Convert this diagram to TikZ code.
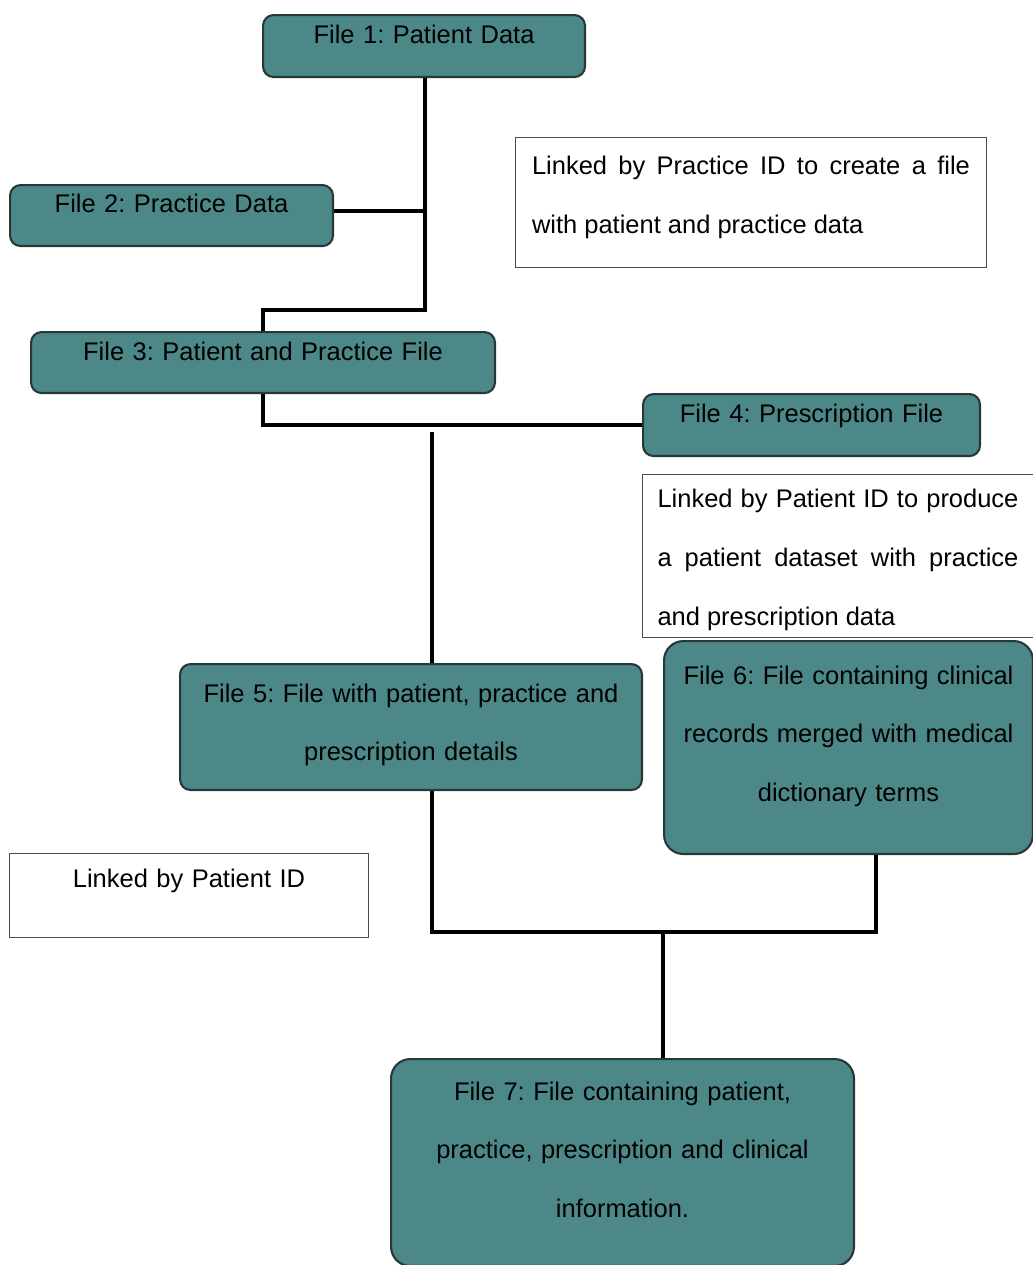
\documentclass[tikz,border=0pt]{standalone}
\usepackage{fontspec}
\setmainfont{Liberation Sans}
\frenchspacing
\definecolor{filefill}{RGB}{76,136,136}
\definecolor{fileedge}{RGB}{40,55,55}

\begin{document}
\begin{tikzpicture}[x=0.02cm, y=-0.02cm,
  filebox/.style={draw=fileedge, line width=1.2pt, fill=filefill, rounded corners=6pt,
    inner sep=0pt, anchor=north west, align=center,
    font=\fontsize{14.5}{33.5}\selectfont},
  bigbox/.style={filebox, rounded corners=11pt},
  notebox/.style={draw=black!70, line width=0.6pt, fill=white, inner ysep=0pt,
    inner xsep=0.33cm, anchor=north west, align=justify,
    font=\fontsize{14.5}{33.5}\selectfont},
  link/.style={line width=2.3pt, black}]
  % Page
  \useasboundingbox (0,0) rectangle (1032,1265);

  % Files
  \node[filebox, text width=6.44cm, text height=0.56cm, text depth=0.68cm] (f1) at (262,14) {File 1: Patient Data};
  \node[filebox, text width=6.46cm, text height=0.54cm, text depth=0.68cm] (f2) at (9,184) {File 2: Practice Data};
  \node[filebox, text width=9.28cm, text height=0.56cm, text depth=0.66cm] (f3) at (30,331) {File 3: Patient and Practice File};
  \node[filebox, text width=6.74cm, text height=0.56cm, text depth=0.68cm] (f4) at (642,393) {File 4: Prescription File};
  \node[filebox, text width=9.24cm, text height=0.76cm, text depth=1.76cm] (f5) at (179,663) {File 5: File with patient, practice and\\prescription details};
  \node[bigbox, text width=7.38cm, text height=0.86cm, text depth=3.40cm] (f6) at (663,640) {File 6: File containing clinical\\records merged with medical\\dictionary terms};
  \node[bigbox, text width=9.26cm, text height=0.82cm, text depth=3.32cm] (f7) at (390,1058) {File 7: File containing patient,\\practice, prescription and clinical\\information.};

  % Notes
  \node[notebox, text width=8.76cm, text height=0.74cm, text depth=1.86cm] (n1) at (515,137) {Linked by Practice ID to create a file with patient and practice data};
  \node[notebox, inner xsep=0.3cm, text width=7.22cm, text height=0.66cm, text depth=2.60cm] (n2) at (642,474) {Linked by Patient ID to produce a patient dataset with practice and prescription data};
  \node[notebox, inner xsep=0pt, align=center, text width=7.18cm, text height=0.68cm, text depth=1.0cm] (n3) at (9,853) {Linked by Patient ID};

  % Junctions
  \coordinate (j1) at (425,310);
  \coordinate (j2) at (432,432);
  \coordinate (j3) at (432,932);
  \coordinate (j4) at (663,932);
  \coordinate (j5) at (876,932);

  % Links
  \draw[link] (f1.south -| j1) -- (j1) -| (f3.north);
  \draw[link] ([yshift=0.09cm]f2.east) -- ([yshift=0.09cm]f2.east -| j1);
  \draw[link] (f3.south) |- (f4.west);
  \draw[link] (j2) -- (j2 |- f5.north);
  \draw[link] (j2 |- f5.south) -- (j3) -- (j5) -- (j5 |- f6.south);
  \draw[link] (j4) -- (j4 |- f7.north);
\end{tikzpicture}
\end{document}
